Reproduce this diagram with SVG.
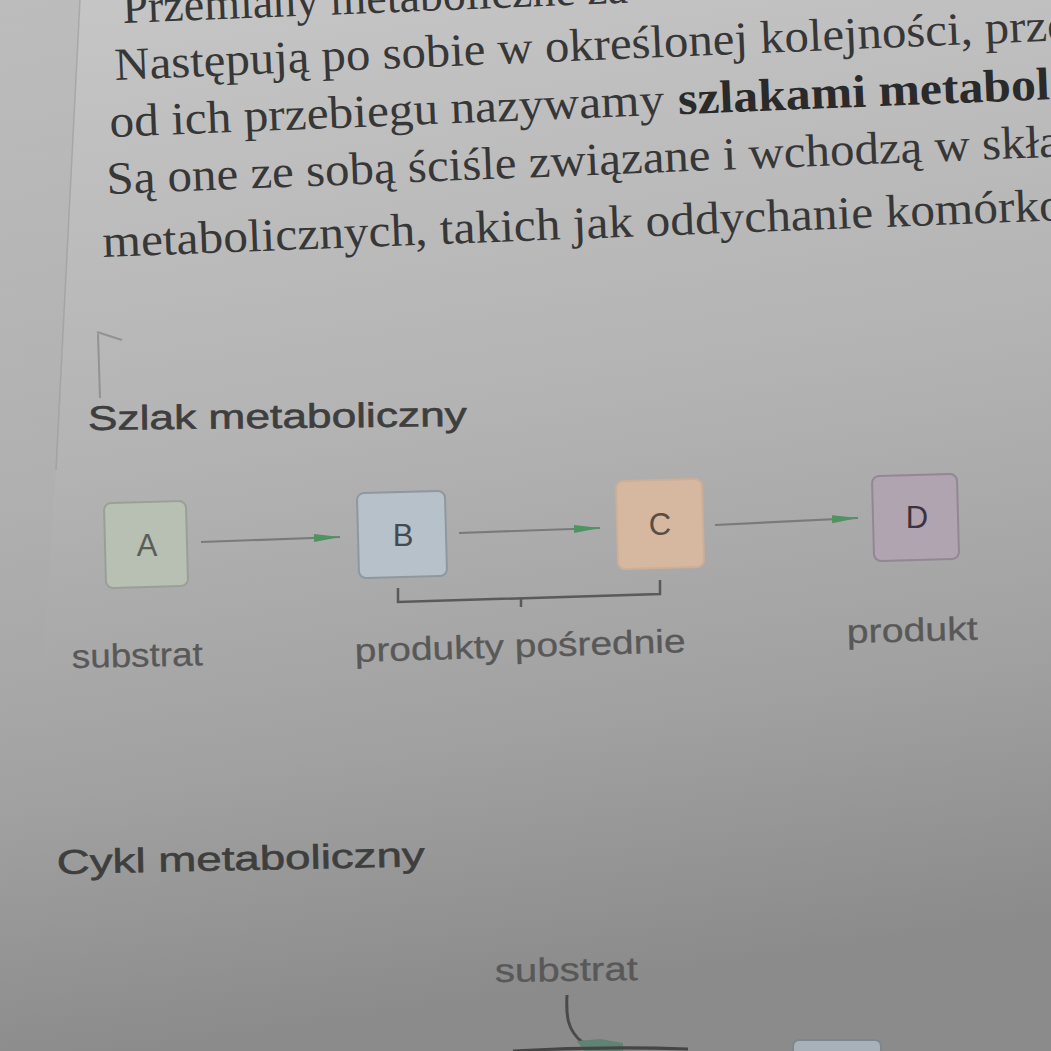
<svg xmlns="http://www.w3.org/2000/svg" width="1051" height="1051" viewBox="0 0 1051 1051">
<style>
.serif{font-family:"Liberation Serif","Times New Roman",serif;font-size:46px;fill:#373737}
.bold{font-weight:bold;fill:#2a2a2a}
.head{font-family:"Liberation Sans",Arial,sans-serif;font-size:34px;fill:#3e3e3e;stroke:#3e3e3e;stroke-width:0.6}
.lbl{font-family:"Liberation Sans",Arial,sans-serif;font-size:33px;fill:#585858;stroke:#585858;stroke-width:0.3}
.letter{font-family:"Liberation Sans",Arial,sans-serif;font-size:31px;text-anchor:middle}
.box{stroke-width:2}
.conn{fill:none;stroke:#787c79;stroke-width:2.2}
.brk{fill:none;stroke:#5a5a5a;stroke-width:2.5}
</style>
<defs>
<linearGradient id="bg" x1="0" y1="0" x2="0.15" y2="1">
<stop offset="0" stop-color="#c6c6c6"/>
<stop offset="0.45" stop-color="#b3b3b3"/>
<stop offset="0.75" stop-color="#a1a1a1"/>
<stop offset="1" stop-color="#8b8b8b"/>
</linearGradient>
<linearGradient id="strip" x1="0" y1="0" x2="0" y2="1">
<stop offset="0" stop-color="#000" stop-opacity="0.05"/>
<stop offset="1" stop-color="#000" stop-opacity="0"/>
</linearGradient>
<marker id="ah" markerUnits="userSpaceOnUse" markerWidth="26" markerHeight="10" refX="26" refY="5" orient="auto">
<path d="M0,1 L26,5 L0,9 Z" fill="#4f9361"/>
</marker>
</defs>
<rect width="1051" height="1051" fill="url(#bg)"/>
<polygon points="0,0 80,0 56,470 40,700 0,700" fill="url(#strip)"/>
<line x1="80" y1="0" x2="56" y2="470" stroke="#9a9a9a" stroke-width="1.5" opacity="0.6"/>
<path d="M97,332 L122,340 M98,334 L100,398" fill="none" stroke="#8a8a8a" stroke-width="2" opacity="0.8"/>

<g id="paragraph">
<text class="serif" x="123" y="23" transform="rotate(-2.3 123 23)">Przemiany metaboliczne za</text>
<text class="serif" x="115" y="80" transform="rotate(-2.4 115 80)" textLength="955" lengthAdjust="spacingAndGlyphs">Następują po sobie w określonej kolejności, prze</text>
<g transform="rotate(-2.3 110 137)">
<text class="serif" x="110" y="137" textLength="555" lengthAdjust="spacingAndGlyphs">od ich przebiegu nazywamy</text>
<text class="serif bold" x="679" y="137" textLength="372" lengthAdjust="spacingAndGlyphs">szlakami metabol</text>
</g>
<text class="serif" x="107" y="194" transform="rotate(-2.25 107 194)" textLength="955" lengthAdjust="spacingAndGlyphs">Są one ze sobą ściśle związane i wchodzą w skła</text>
<text class="serif" x="103" y="257" transform="rotate(-2.2 103 257)" textLength="962" lengthAdjust="spacingAndGlyphs">metabolicznych, takich jak oddychanie komórko</text>
</g>

<text class="head" x="88" y="430" transform="rotate(-0.6 88 430)" textLength="379" lengthAdjust="spacingAndGlyphs">Szlak metaboliczny</text>

<g id="connectors">
<line class="conn" x1="201" y1="542" x2="340" y2="537" marker-end="url(#ah)"/>
<line class="conn" x1="459" y1="533" x2="600" y2="528" marker-end="url(#ah)"/>
<line class="conn" x1="715" y1="525" x2="858" y2="518" marker-end="url(#ah)"/>
<path class="brk" d="M398,588 L398,602 L660,594 L660,580"/>
<path class="brk" d="M521,598 L521,607"/>
<path d="M567,995 C566,1015 567,1030 582,1042" fill="none" stroke="#4a4a4a" stroke-width="3"/>
<polygon points="577,1041 600,1039 623,1043 623,1051 584,1051" fill="#5f8476"/>
<path d="M513,1051 Q600,1046 688,1049" fill="none" stroke="#454545" stroke-width="3"/>
</g>

<g id="node-A">
<rect class="box" x="105" y="502" width="82" height="85" rx="7" fill="#b8bfb3" stroke="#9aa096" transform="rotate(-1.5 146 545)"/>
<text class="letter" x="147" y="556" fill="#5a5e58">A</text>
</g>
<g id="node-B">
<rect class="box" x="358" y="492" width="88" height="85" rx="7" fill="#b7c1ca" stroke="#8f989f" transform="rotate(-1.5 402 535)"/>
<text class="letter" x="403" y="546" fill="#444a50">B</text>
</g>
<g id="node-C">
<rect class="box" x="617" y="480" width="86" height="88" rx="7" fill="#d6b7a0" stroke="#cdae97" transform="rotate(-1.5 660 524)"/>
<text class="letter" x="660" y="535" fill="#5c4c42">C</text>
</g>
<g id="node-D">
<rect class="box" x="873" y="475" width="85" height="85" rx="7" fill="#b1a4b1" stroke="#938794" transform="rotate(-1.5 916 517)"/>
<text class="letter" x="917" y="528" fill="#3c3240">D</text>
</g>

<text class="lbl" x="72" y="668" transform="rotate(-1.2 72 668)" textLength="131" lengthAdjust="spacingAndGlyphs">substrat</text>
<text class="lbl" x="355" y="662" transform="rotate(-1.7 355 662)" textLength="331" lengthAdjust="spacingAndGlyphs">produkty pośrednie</text>
<text class="lbl" x="847" y="643" transform="rotate(-1.4 847 643)" textLength="131" lengthAdjust="spacingAndGlyphs">produkt</text>

<text class="head" x="57" y="874" transform="rotate(-1.2 57 874)" textLength="368" lengthAdjust="spacingAndGlyphs">Cykl metaboliczny</text>
<text class="lbl" x="495" y="982" transform="rotate(-0.8 495 982)" textLength="143" lengthAdjust="spacingAndGlyphs">substrat</text>

<g id="node-cycle-partial">
<rect x="793" y="1040" width="88" height="40" rx="6" fill="#a8b1b9" stroke="#7f878e" stroke-width="2"/>
</g>
</svg>
